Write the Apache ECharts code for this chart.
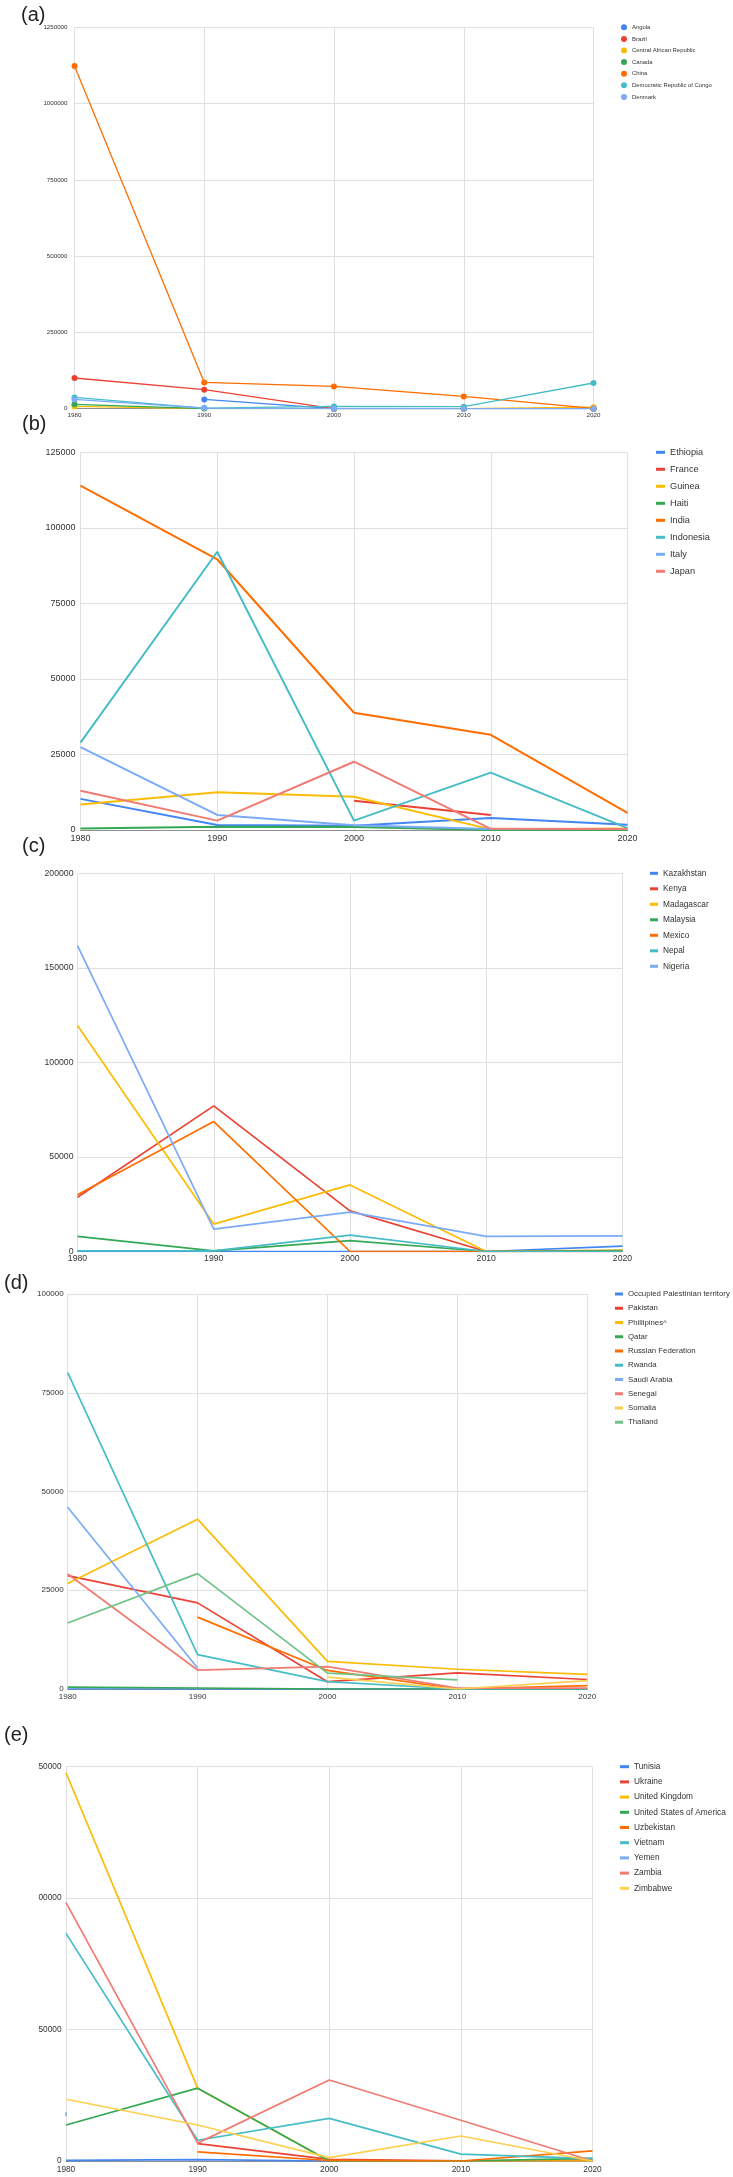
<!DOCTYPE html>
<html><head><meta charset="utf-8">
<script src="https://cdn.jsdelivr.net/npm/echarts@6/dist/echarts.min.js"></script>
<style>html,body{margin:0;padding:0;background:#fff}#c{width:733px;height:2177px}</style>
</head><body><div id="c"></div>
<script>
const years = ['1980', '1990', '2000', '2010', '2020'];
const palette = ['#4285F4', '#EA4335', '#FBBC04', '#34A853', '#FF6D01', '#46BDC6', '#7BAAF7', '#F07B72', '#FCD04F', '#71C287'];

// (a)
const countriesA = ['Angola', 'Brazil', 'Central African Republic', 'Canada', 'China', 'Democratic Republic of Congo', 'Denmark'];
const valuesA = [
  [null, 30500, 0, 0, 0],
  [100600, 62300, 0, 0, 0],
  [7600, 500, 500, 500, 5000],
  [14200, 500, 500, 0, 0],
  [1123500, 86200, 73100, 40300, 1000],
  [37000, 2000, 7600, 6500, 84200],
  [30500, 2000, 0, 0, 0]
];
const yTicksA = ['0', '250000', '500000', '750000', '1000000', '1250000'];

// (b)
const countriesB = ['Ethiopia', 'France', 'Guinea', 'Haiti', 'India', 'Indonesia', 'Italy', 'Japan'];
const valuesB = [
  [10300, 1660, 1430, 4000, 1760],
  [null, null, 9700, 5000, null],
  [8400, 12500, 11000, 200, 500],
  [500, 1100, 1000, 0, 0],
  [114000, 89600, 38800, 31500, 5700],
  [28900, 92100, 3100, 19000, 600],
  [27400, 5000, 1600, 300, 300],
  [13000, 3100, 22600, 400, 300]
];
const yTicksB = ['0', '25000', '50000', '75000', '100000', '125000'];

// (c)
const countriesC = ['Kazakhstan', 'Kenya', 'Madagascar', 'Malaysia', 'Mexico', 'Nepal', 'Nigeria'];
const valuesC = [
  [0, 0, 0, 0, 2850],
  [28700, 77000, 21500, 0, 0],
  [119500, 14500, 35200, 0, 700],
  [8000, 350, 5800, 0, 500],
  [30000, 68700, 0, 0, 0],
  [300, 350, 8700, 0, 0],
  [161800, 11800, 20800, 8000, 8300]
];
const yTicksC = ['0', '50000', '100000', '150000', '200000'];

// (d)
const countriesD = ['Occupied Palestinian territory', 'Pakistan', 'Phillipines^', 'Qatar', 'Russian Federation', 'Rwanda', 'Saudi Arabia', 'Senegal', 'Somalia', 'Thailand'];
const valuesD = [
  [0, 0, 0, 0, 0],
  [28700, 21800, 1850, 4100, 2400],
  [26700, 43000, 7000, 5000, 3700],
  [500, 250, 0, 0, 0],
  [null, 18200, 4700, 0, 850],
  [80100, 8700, 1850, 0, 0],
  [46000, 5300, null, null, null],
  [29100, 4800, 5650, 200, 200],
  [null, null, 3000, 0, 2100],
  [16700, 29200, 4000, 2300, null]
];
const yTicksD = ['0', '25000', '50000', '75000', '100000'];

// (e)
const countriesE = ['Tunisia', 'Ukraine', 'United Kingdom', 'United States of America', 'Uzbekistan', 'Vietnam', 'Yemen', 'Zambia', 'Zimbabwe'];
const valuesE = [
  [200, 500, 0, 0, 0],
  [null, 6600, 600, 100, 300],
  [147700, 27700, 0, 0, 0],
  [13700, 27700, 0, 0, 1000],
  [null, 3500, 200, 0, 3850],
  [86600, 7900, 16200, 2600, 900],
  [17750, null, null, null, null],
  [98300, 6800, 30800, 15500, 0],
  [23500, 13700, 1300, 9500, 0]
];
const yTicksE = ['0', '50000', '00000', '50000'];

const panelLabels = ['(a)', '(b)', '(c)', '(d)', '(e)'];

const SANS = '"Liberation Sans", Arial, sans-serif';

const panels = [
  { names: countriesA, values: valuesA, ticks: yTicksA, max: 1250000, interval: 250000,
    grid: { left: 74.5, top: 27.3, width: 519, height: 381.4 }, axisFont: 6.2, yMargin: 7, xMargin: 3.2,
    lw: 1.3, symbols: true,
    leg: { left: 621, top: 23.3, w: 6, h: 6, icon: 'circle', font: 5.9, L: 8, gap: 3.6 },
    lab: { x: 21, y: 5 } },
  { names: countriesB, values: valuesB, ticks: yTicksB, max: 125000, interval: 25000,
    grid: { left: 80.5, top: 452.3, width: 547, height: 377.7 }, axisFont: 9, yMargin: 5, xMargin: 4.5,
    lw: 2, symbols: false,
    leg: { left: 656, top: 446.3, w: 9, h: 3, icon: 'rect', font: 9.2, L: 12, gap: 5 },
    lab: { x: 22, y: 414 } },
  { names: countriesC, values: valuesC, ticks: yTicksC, max: 200000, interval: 50000,
    grid: { left: 77.5, top: 873.3, width: 545, height: 378.2 }, axisFont: 8.7, yMargin: 4, xMargin: 3,
    lw: 1.7, symbols: false,
    leg: { left: 650, top: 867.8, w: 8, h: 3, icon: 'rect', font: 8.3, L: 11, gap: 4.5 },
    lab: { x: 22, y: 836 } },
  { names: countriesD, values: valuesD, ticks: yTicksD, max: 100000, interval: 25000,
    grid: { left: 67.7, top: 1294, width: 519.5, height: 395 }, axisFont: 8, yMargin: 4, xMargin: 3.5,
    lw: 1.7, symbols: false,
    leg: { left: 615, top: 1289, w: 8, h: 3, icon: 'rect', font: 7.8, L: 10, gap: 4.25 },
    lab: { x: 4, y: 1273 } },
  { names: countriesE, values: valuesE, ticks: yTicksE, max: 150000, interval: 50000,
    grid: { left: 66, top: 1766.7, width: 526.5, height: 394.3 }, axisFont: 8.3, yMargin: 4.5, xMargin: 4.5,
    lw: 1.7, symbols: false,
    leg: { left: 620, top: 1761.2, w: 9, h: 3, icon: 'rect', font: 8.3, L: 11, gap: 4.2 },
    lab: { x: 4, y: 1725 } }
];

const grids = [], xAxes = [], yAxes = [], legends = [], series = [], graphics = [];
panels.forEach((p, k) => {
  grids.push(Object.assign({ containLabel: false }, p.grid));
  xAxes.push({
    type: 'category', gridIndex: k, data: years, boundaryGap: false,
    axisTick: { show: false },
    axisLine: { show: true, lineStyle: { color: '#8f8f8f', width: 1 } },
    splitLine: { show: true, interval: 0, lineStyle: { color: '#e0e0e0', width: 1 } },
    axisLabel: { interval: 0, margin: p.xMargin, fontSize: p.axisFont, fontFamily: SANS, color: '#333' }
  });
  yAxes.push({
    type: 'value', gridIndex: k, min: 0, max: p.max, interval: p.interval,
    axisLine: { show: false }, axisTick: { show: false },
    splitLine: { show: true, lineStyle: { color: '#e0e0e0', width: 1 } },
    axisLabel: { margin: p.yMargin, fontSize: p.axisFont, fontFamily: SANS, color: '#333',
      formatter: (v) => p.ticks[Math.round(v / p.interval)] }
  });
  legends.push({
    data: p.names, orient: 'vertical', left: p.leg.left, top: p.leg.top, padding: 0,
    itemWidth: p.leg.w, itemHeight: p.leg.h, itemGap: p.leg.gap, icon: p.leg.icon,
    selectedMode: false,
    textStyle: { fontSize: p.leg.font, lineHeight: p.leg.L, fontFamily: SANS, color: '#333', padding: [0, 0, 0, 0] }
  });
  p.names.forEach((name, i) => {
    const isYemen = name === 'Yemen';
    series.push({
      type: 'line', name: name, xAxisIndex: k, yAxisIndex: k, data: p.values[i],
      color: palette[i],
      showSymbol: p.symbols || isYemen,
      symbol: isYemen ? 'rect' : 'circle',
      symbolSize: isYemen ? [1.5, 4] : 6,
      lineStyle: { width: p.lw },
      itemStyle: { color: palette[i] },
      emphasis: { disabled: true },
      animation: false
    });
  });
  graphics.push({
    type: 'text', left: p.lab.x, top: p.lab.y,
    style: { text: panelLabels[k], font: '20px ' + SANS, fill: '#222' }
  });
});

const chart = echarts.init(document.getElementById('c'), null, { renderer: 'canvas' });
chart.setOption({
  backgroundColor: '#ffffff',
  animation: false,
  grid: grids, xAxis: xAxes, yAxis: yAxes, legend: legends, series: series, graphic: graphics
});
</script>
</body></html>
